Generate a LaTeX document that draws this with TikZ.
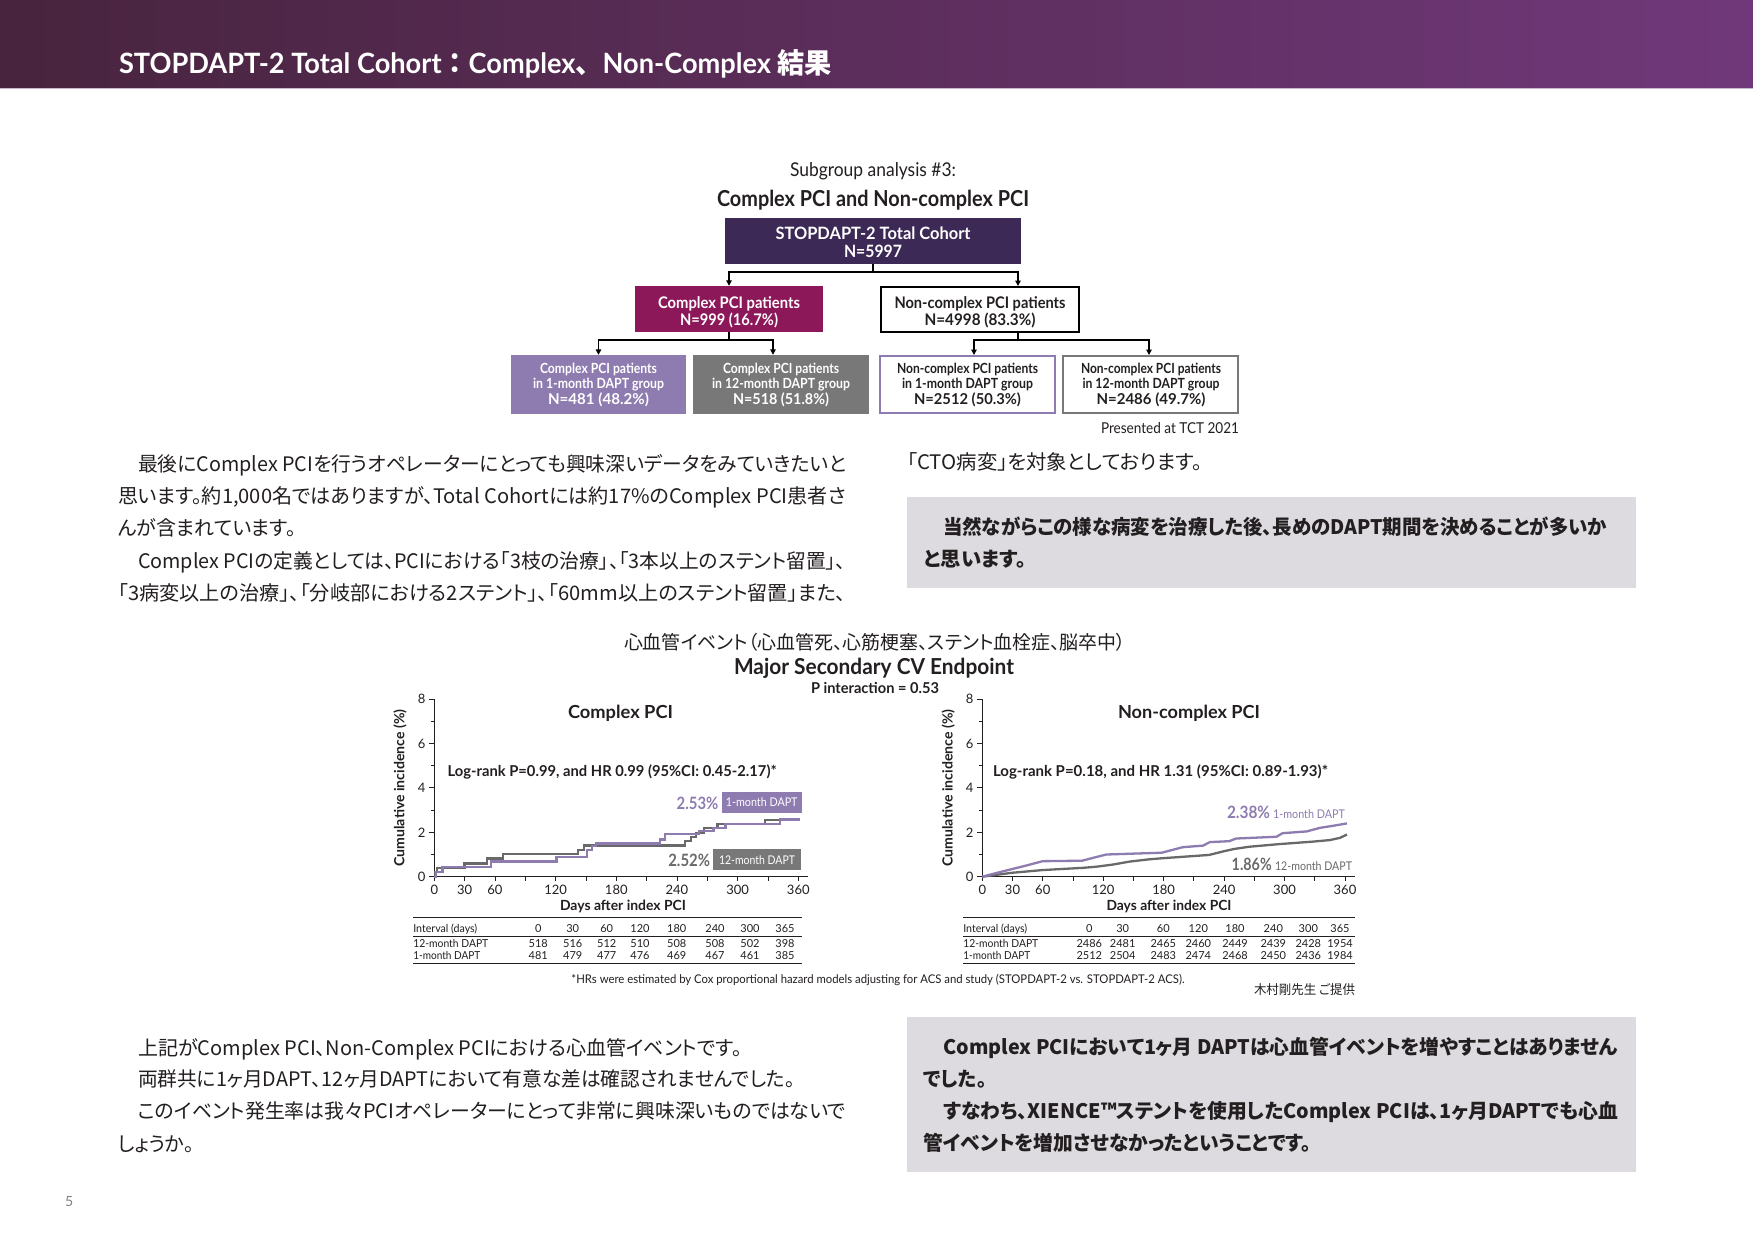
\documentclass[tikz,border=0pt]{standalone}
\usepackage{fontspec}
\usepackage{graphicx}
\usetikzlibrary{arrows.meta}
\setmainfont{Lato}
\newfontfamily\jp{Noto Sans CJK JP}[RawFeature=+palt]
\newfontfamily\jpf{Noto Sans CJK JP}
\definecolor{ink}{RGB}{35,31,32}
\definecolor{hdrL}{RGB}{72,36,62}
\definecolor{hdrR}{RGB}{112,56,122}
\definecolor{hdrline}{RGB}{200,186,206}
\definecolor{topbox}{RGB}{61,41,86}
\definecolor{magbox}{RGB}{140,24,90}
\definecolor{lav}{RGB}{142,123,176}
\definecolor{grbox}{RGB}{120,120,120}
\definecolor{curveg}{RGB}{105,105,105}
\definecolor{panel}{RGB}{221,219,223}
\newcommand\fw[2]{\resizebox{#1pt}{\height}{#2}}
\newcommand\fs[1]{\fontsize{#1}{#1}\selectfont}
\tikzset{
  tx/.style={inner sep=0pt, outer sep=0pt, text=ink},
  jl/.style={tx, anchor=base west, font={\jp\fs{20}}},
  jb/.style={tx, anchor=base west, font={\jp\bfseries\fs{20}}},
  conn/.style={draw=black, line width=1.8pt},
  arr/.style={conn, -{Triangle[length=5.5pt,width=5.5pt]}},
  axisline/.style={draw=ink, line width=0.9pt},
  tabline/.style={draw=ink, line width=0.8pt},
  cpurple/.style={draw=lav, line width=2.3pt},
  cgray/.style={draw=curveg, line width=2.3pt},
  ticklab/.style={tx, font={\fs{13}}},
  tabtx/.style={tx, anchor=base, font={\fs{11}}},
}
\begin{document}
\begin{tikzpicture}[x=1pt,y=-1pt]
\useasboundingbox (0,0) rectangle (1753,1240);
\fill[white] (0,0) rectangle (1753,1240);
% header
\shade[left color=hdrL, right color=hdrR] (0,0) rectangle (1753,88);
\draw[hdrline, line width=1.5pt] (0,88.5) -- (1753,88.5);
\node[tx, text=white, anchor=base west] (title) at (119,73) {\fw{713}{\bfseries\fs{28}STOPDAPT-2 Total Cohort{\jpf ：}Complex{\jpf 、}Non-Complex {\jpf 結果}}};

% flowchart
\node[tx, anchor=base] (sg) at (873,176) {\fw{166}{\fs{19}Subgroup analysis \#3:}};
\node[tx, anchor=base] (sgt) at (873,206) {\fw{312}{\bfseries\fs{22}Complex PCI and Non-complex PCI}};

\node[fill=topbox, inner sep=0pt, minimum width=296pt, minimum height=46pt] (top) at (873,241) {};
\node[fill=magbox, inner sep=0pt, minimum width=188pt, minimum height=46pt] (cpx) at (729,309) {};
\node[draw=black, line width=2pt, fill=white, inner sep=0pt, minimum width=198pt, minimum height=45pt] (ncx) at (980,309.5) {};
\node[fill=lav, inner sep=0pt, minimum width=175pt, minimum height=59pt] (b1) at (598.5,384.5) {};
\node[fill=grbox, inner sep=0pt, minimum width=176pt, minimum height=59pt] (b2) at (781,384.5) {};
\node[draw=lav, line width=2pt, fill=white, inner sep=0pt, minimum width=175pt, minimum height=57pt] (b3) at (967.5,384.5) {};
\node[draw=grbox, line width=2pt, fill=white, inner sep=0pt, minimum width=175pt, minimum height=57pt] (b4) at (1150.5,384.5) {};

\node[tx, text=white, anchor=base] (topt1) at (873,239) {\fw{195}{\bfseries\fs{17}STOPDAPT-2 Total Cohort}};
\node[tx, text=white, anchor=base] (topt2) at (873,257) {\fw{58}{\bfseries\fs{17}N=5997}};
\node[tx, text=white, anchor=base] (cpxt1) at (729,308) {\fw{142}{\bfseries\fs{16}Complex PCI patients}};
\node[tx, text=white, anchor=base] (cpxt2) at (729,325) {\fw{98}{\bfseries\fs{16}N=999 (16.7\%)}};
\node[tx, anchor=base] (ncxt1) at (980,308) {\fw{171}{\bfseries\fs{16}Non-complex PCI patients}};
\node[tx, anchor=base] (ncxt2) at (980,325) {\fw{111}{\bfseries\fs{16}N=4998 (83.3\%)}};

\node[tx, text=white, anchor=base] (b1t1) at (598.5,373) {\fw{117}{\bfseries\fs{14}Complex PCI patients}};
\node[tx, text=white, anchor=base] (b1t2) at (598.5,388) {\fw{131}{\bfseries\fs{14}in 1-month DAPT group}};
\node[tx, text=white, anchor=base] (b1t3) at (598.5,404) {\fw{101}{\bfseries\fs{15}N=481 (48.2\%)}};
\node[tx, text=white, anchor=base] (b2t1) at (781,373) {\fw{116}{\bfseries\fs{14}Complex PCI patients}};
\node[tx, text=white, anchor=base] (b2t2) at (781,388) {\fw{138}{\bfseries\fs{14}in 12-month DAPT group}};
\node[tx, text=white, anchor=base] (b2t3) at (781,404) {\fw{96}{\bfseries\fs{15}N=518 (51.8\%)}};
\node[tx, anchor=base] (b3t1) at (967.5,373) {\fw{141}{\bfseries\fs{14}Non-complex PCI patients}};
\node[tx, anchor=base] (b3t2) at (967.5,388) {\fw{131}{\bfseries\fs{14}in 1-month DAPT group}};
\node[tx, anchor=base] (b3t3) at (967.5,404) {\fw{107}{\bfseries\fs{15}N=2512 (50.3\%)}};
\node[tx, anchor=base] (b4t1) at (1151,373) {\fw{140}{\bfseries\fs{14}Non-complex PCI patients}};
\node[tx, anchor=base] (b4t2) at (1151,388) {\fw{137}{\bfseries\fs{14}in 12-month DAPT group}};
\node[tx, anchor=base] (b4t3) at (1151,404) {\fw{109}{\bfseries\fs{15}N=2486 (49.7\%)}};

\draw[conn] (top.south) -- ++(0,8) coordinate (j0);
\draw[arr] (j0) -| (cpx.north);
\draw[arr] (j0) -| ([xshift=38pt]ncx.north);
\draw[conn] (cpx.south) -- ++(0,8) coordinate (j1);
\draw[arr] (j1) -| (b1.north);
\draw[arr] (j1) -| ([xshift=-8pt]b2.north);
\draw[conn] ([xshift=38pt]ncx.south) -- ++(0,7) coordinate (j2);
\draw[arr] (j2) -| ([xshift=6.5pt]b3.north);
\draw[arr] (j2) -| ([xshift=-1.5pt]b4.north);

\node[tx, anchor=base east] (pres) at (1239,433) {\fw{138}{\fs{15}Presented at TCT 2021}};

% upper body text
\node[jl] (p1) at (138,471.5) {\fw{708}{最後にComplex PCIを行うオペレーターにとっても興味深いデータをみていきたいと}};
\node[jl] (p2) at (118,503.7) {\fw{728}{思います。約1,000名ではありますが、Total Cohortには約17\%のComplex PCI患者さ}};
\node[jl] (p3) at (118,535.9) {\fw{178}{んが含まれています。}};
\node[jl] (p4) at (138,568.1) {\fw{708}{Complex PCIの定義としては、PCIにおける「3枝の治療」、「3本以上のステント留置」、}};
\node[jl] (p5) at (118,600.3) {\fw{728}{「3病変以上の治療」、「分岐部における2ステント」、「60mm以上のステント留置」また、}};
\node[jl] (q1) at (907,469.6) {\fw{295}{「CTO病変」を対象としております。}};

\fill[panel] (907,497) rectangle (1636,588);
\node[jb] (g1) at (943,534.2) {\fw{664}{当然ながらこの様な病変を治療した後、長めのDAPT期間を決めることが多いか}};
\node[jb] (g2) at (924,566.7) {\fw{102}{と思います。}};

% chart headings
\node[tx, anchor=base] (jh) at (875,649) {\fw{502}{\jp\fs{19}心血管イベント（心血管死、心筋梗塞、ステント血栓症、脳卒中）}};
\node[tx, anchor=base] (mh) at (874,674) {\fw{280}{\bfseries\fs{22}Major Secondary CV Endpoint}};
\node[tx, anchor=base] (ph) at (875,693.5) {\fw{128}{\bfseries\fs{15}P interaction = 0.53}};

% left chart
\begin{scope}[shift={(434.3pt,-876.7pt)}, x=1.0111pt, y=22.2pt]
  \draw[axisline] (0,8) -- (0,0) -- (370,0);
  \foreach \v in {0,2,4,6,8} {
    \draw[axisline] (0,\v) -- ++(-5pt,0pt);
    \node[ticklab] (lyt\v) at ([xshift=-12.6pt]0,\v) {\v};
  }
  \foreach \v in {1,3,5,7} \draw[axisline] (0,\v) -- ++(-3pt,0pt);
  \foreach \d in {0,30,...,360} \draw[axisline] (\d,0) -- ++(0pt,-4pt);
  \foreach \d in {0,30,60,120,180,240,300,360}
    \node[ticklab] (lxt\d) at ([yshift=-13.5pt]\d,0) {\d};
  \draw[cgray] (0,0) -| (1,0.2) -| (3,0.4) -| (30,0.6) -| (52,0.82) -| (68,1.03) -| (142,1.2) -| (148,1.4) -| (248,1.6) -| (254,1.8) -| (259,1.98) -| (267,2.18) -| (280,2.38) -| (327,2.55) -- (361,2.55);
  \draw[cpurple] (0,0) -| (2,0.22) -| (8,0.45) -| (56,0.68) -| (121,0.9) -| (151,1.2) -| (156,1.38) -| (160,1.5) -| (223,1.68) -| (228,1.92) -| (262,2.05) -| (276,2.2) -| (288,2.38) -| (342,2.58) -- (362,2.58);
\end{scope}
\node[tx, anchor=base] (lt) at (620.5,718.3) {\fw{105}{\bfseries\fs{18}Complex PCI}};
\node[tx, anchor=base west] (llr) at (447.7,776) {\fw{329}{\bfseries\fs{15}Log-rank P=0.99, and HR 0.99 (95\%CI: 0.45-2.17)*}};
\node[tx, anchor=base east, text=lav] (lp1) at (718.3,809.3) {\fw{41.6}{\bfseries\fs{17}2.53\%}};
\node[fill=lav, text=white, inner sep=0pt, minimum width=80pt, minimum height=21pt] (ltag1) at (761.7,802.2) {\fw{71.7}{\fs{12}1-month DAPT}};
\node[tx, anchor=base east, text=curveg] (lp2) at (710,866.7) {\fw{41.7}{\bfseries\fs{17}2.52\%}};
\node[fill=grbox, text=white, inner sep=0pt, minimum width=87.4pt, minimum height=20.7pt] (ltag2) at (757,859.7) {\fw{76}{\fs{12}12-month DAPT}};
\node[tx, anchor=base] (lxl) at (623,910) {\fw{126}{\bfseries\fs{14}Days after index PCI}};
\node[tx, rotate=90] (lyl) at (400,788) {\fw{157}{\bfseries\fs{14}Cumulative incidence (\%)}};

% right chart
\begin{scope}[shift={(982.3pt,-876.7pt)}, x=1.0074pt, y=22.2pt]
  \draw[axisline] (0,8) -- (0,0) -- (370,0);
  \foreach \v in {0,2,4,6,8} {
    \draw[axisline] (0,\v) -- ++(-5pt,0pt);
    \node[ticklab] (ryt\v) at ([xshift=-12.6pt]0,\v) {\v};
  }
  \foreach \v in {1,3,5,7} \draw[axisline] (0,\v) -- ++(-3pt,0pt);
  \foreach \d in {0,30,...,360} \draw[axisline] (\d,0) -- ++(0pt,-4pt);
  \foreach \d in {0,30,60,120,180,240,300,360}
    \node[ticklab] (rxt\d) at ([yshift=-13.5pt]\d,0) {\d};
  \draw[cgray] (0,0) -- (30,0.18) -- (60,0.3) -- (100,0.4) -- (113,0.45) -- (130,0.55) -- (146,0.68) -- (165,0.78) -- (178,0.83) -- (200,0.9) -- (225,0.98) -- (240,1.15) -- (250,1.25) -- (265,1.35) -- (295,1.47) -- (328,1.58) -- (345,1.65) -- (355,1.75) -- (362,1.9);
  \draw[cpurple] (0,0) -- (15,0.18) -- (30,0.35) -- (45,0.52) -- (60,0.7) -- (99,0.72) -- (110,0.85) -- (123,1.0) -- (150,1.04) -- (178,1.08) -- (199,1.33) -- (219,1.4) -- (226,1.56) -- (245,1.6) -- (252,1.72) -- (292,1.8) -- (298,1.96) -- (322,2.04) -- (335,2.2) -- (349,2.3) -- (362,2.4);
\end{scope}
\node[tx, anchor=base] (rt) at (1189,718.3) {\fw{142}{\bfseries\fs{18}Non-complex PCI}};
\node[tx, anchor=base west] (rlr) at (993,776) {\fw{335}{\bfseries\fs{15}Log-rank P=0.18, and HR 1.31 (95\%CI: 0.89-1.93)*}};
\node[tx, anchor=base east, text=lav] (rp1) at (1270,818.3) {\fw{43}{\bfseries\fs{17}2.38\%}};
\node[tx, anchor=base west, text=lav] (rtag1) at (1273,818) {\fw{72}{\fs{12}1-month DAPT}};
\node[tx, anchor=base east, text=curveg] (rp2) at (1271.7,870) {\fw{40}{\bfseries\fs{17}1.86\%}};
\node[tx, anchor=base west, text=curveg] (rtag2) at (1275,870) {\fw{77}{\fs{12}12-month DAPT}};
\node[tx, anchor=base] (rxl) at (1169,910) {\fw{125}{\bfseries\fs{14}Days after index PCI}};
\node[tx, rotate=90] (ryl) at (948.3,788) {\fw{157}{\bfseries\fs{14}Cumulative incidence (\%)}};

% tables
\draw[tabline] (413.3,917.7) -- (801.7,917.7);
\draw[tabline] (413.3,936) -- (801.7,936);
\draw[tabline] (413.3,963.3) -- (801.7,963.3);
\node[tx, anchor=base west] (lh0) at (413.3,932.3) {\fw{64}{\fs{11}Interval (days)}};
\node[tx, anchor=base west] (lr2) at (413.3,947.3) {\fw{75}{\fs{11}12-month DAPT}};
\node[tx, anchor=base west] (lr3) at (413.3,959) {\fw{67}{\fs{11}1-month DAPT}};
\foreach \x/\a/\b/\c [count=\i] in {538.3/0/518/481, 572.7/30/516/479, 606.7/60/512/477, 640/120/510/476, 676.7/180/508/469, 715/240/508/467, 750/300/502/461, 785/365/398/385} {
  \node[tabtx] (lth\i) at (\x,932.3) {\a};
  \node[tabtx] (ltb\i) at (\x,947.3) {\b};
  \node[tabtx] (ltc\i) at (\x,959) {\c};
}
\draw[tabline] (963.3,917.7) -- (1355,917.7);
\draw[tabline] (963.3,936) -- (1355,936);
\draw[tabline] (963.3,963.3) -- (1355,963.3);
\node[tx, anchor=base west] (rh0) at (963.3,932.3) {\fw{64}{\fs{11}Interval (days)}};
\node[tx, anchor=base west] (rr2) at (963.3,947.3) {\fw{75}{\fs{11}12-month DAPT}};
\node[tx, anchor=base west] (rr3) at (963.3,959) {\fw{67}{\fs{11}1-month DAPT}};
\foreach \x/\a/\b/\c [count=\i] in {1089.3/0/2486/2512, 1122.7/30/2481/2504, 1163.3/60/2465/2483, 1198.3/120/2460/2474, 1235/180/2449/2468, 1273.3/240/2439/2450, 1308.3/300/2428/2436, 1340/365/1954/1984} {
  \node[tabtx] (rth\i) at (\x,932.3) {\a};
  \node[tabtx] (rtb\i) at (\x,947.3) {\b};
  \node[tabtx] (rtc\i) at (\x,959) {\c};
}
\node[tx, anchor=base] (fn) at (878,983) {\fw{613}{\fs{12}*HRs were estimated by Cox proportional hazard models adjusting for ACS and study (STOPDAPT-2 vs. STOPDAPT-2 ACS).}};
\node[tx, anchor=base] (kim) at (1304.5,994) {\fw{101}{\jp\fs{13}木村剛先生 ご提供}};

% lower body text
\node[jl] (s1) at (138,1055.6) {\fw{604}{上記がComplex PCI、Non-Complex PCIにおける心血管イベントです。}};
\node[jl] (s2) at (138,1086.6) {\fw{657}{両群共に1ヶ月DAPT、12ヶ月DAPTにおいて有意な差は確認されませんでした。}};
\node[jl] (s3) at (138,1118.6) {\fw{708}{このイベント発生率は我々PCIオペレーターにとって非常に興味深いものではないで}};
\node[jl] (s4) at (118,1151.6) {\fw{76}{しょうか。}};

\fill[panel] (907,1017) rectangle (1636,1172);
\node[jb] (h1) at (943.5,1054.6) {\fw{674.5}{Complex PCIにおいて1ヶ月 DAPTは心血管イベントを増やすことはありません}};
\node[jb] (h2) at (923.5,1086.6) {\fw{63}{でした。}};
\node[jb] (h3) at (943.5,1118.6) {\fw{674.5}{すなわち、XIENCE™ステントを使用したComplex PCIは、1ヶ月DAPTでも心血}};
\node[jb] (h4) at (923.5,1150.6) {\fw{388}{管イベントを増加させなかったということです。}};

\node[tx, text=gray] (pg) at (69.3,1202) {\fs{14}5};
\end{tikzpicture}
\end{document}
